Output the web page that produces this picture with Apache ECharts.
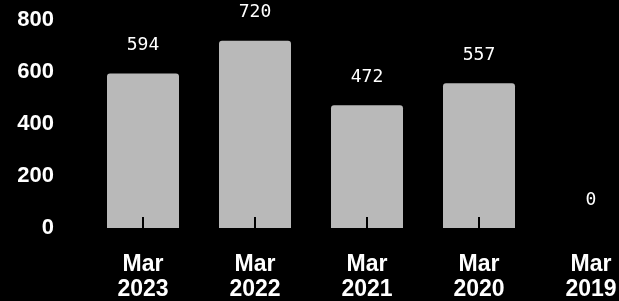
<!DOCTYPE html>
<html>
<head>
<meta charset="utf-8">
<script src="https://cdn.jsdelivr.net/npm/echarts@6/dist/echarts.min.js"></script>
<style>
  html, body { margin: 0; padding: 0; background: #000; }
  #chart { width: 619px; height: 301px; }
</style>
</head>
<body>
<div id="chart"></div>
<script>
// 数据
const categories = ['Mar\n2023', 'Mar\n2022', 'Mar\n2021', 'Mar\n2020', 'Mar\n2019']
const values = [594, 720, 472, 557, 0]
const yTicks = [0, 200, 400, 600, 800]

const myChart = echarts.init(document.querySelector('#chart'))
const option = {
  backgroundColor: '#000',
  animation: false,
  grid: {
    left: 87,
    top: 20,
    width: 560,
    height: 208,
    outerBoundsMode: 'none',
    containLabel: false
  },
  xAxis: {
    type: 'category',
    data: categories,
    z: 10,
    axisLine: { show: false },
    axisTick: {
      show: true,
      inside: true,
      alignWithLabel: true,
      length: 11,
      lineStyle: { color: '#000', width: 2 }
    },
    axisLabel: {
      color: '#fff',
      fontFamily: 'Liberation Sans',
      fontWeight: 'bold',
      fontSize: 23,
      lineHeight: 25,
      margin: 24
    }
  },
  yAxis: {
    type: 'value',
    min: yTicks[0],
    max: yTicks[yTicks.length - 1],
    interval: 200,
    splitLine: { show: false },
    axisLine: { show: false },
    axisTick: { show: false },
    axisLabel: {
      color: '#fff',
      fontFamily: 'Liberation Sans',
      fontWeight: 'bold',
      fontSize: 22,
      margin: 33
    }
  },
  series: [
    {
      type: 'bar',
      data: values,
      barWidth: 72,
      itemStyle: {
        color: '#b9b9b9',
        borderRadius: [3, 3, 0, 0]
      },
      label: {
        show: true,
        position: 'top',
        distance: 19,
        color: '#fff',
        fontFamily: 'DejaVu Sans Mono',
        fontSize: 18
      }
    }
  ]
}
myChart.setOption(option)
</script>
</body>
</html>
